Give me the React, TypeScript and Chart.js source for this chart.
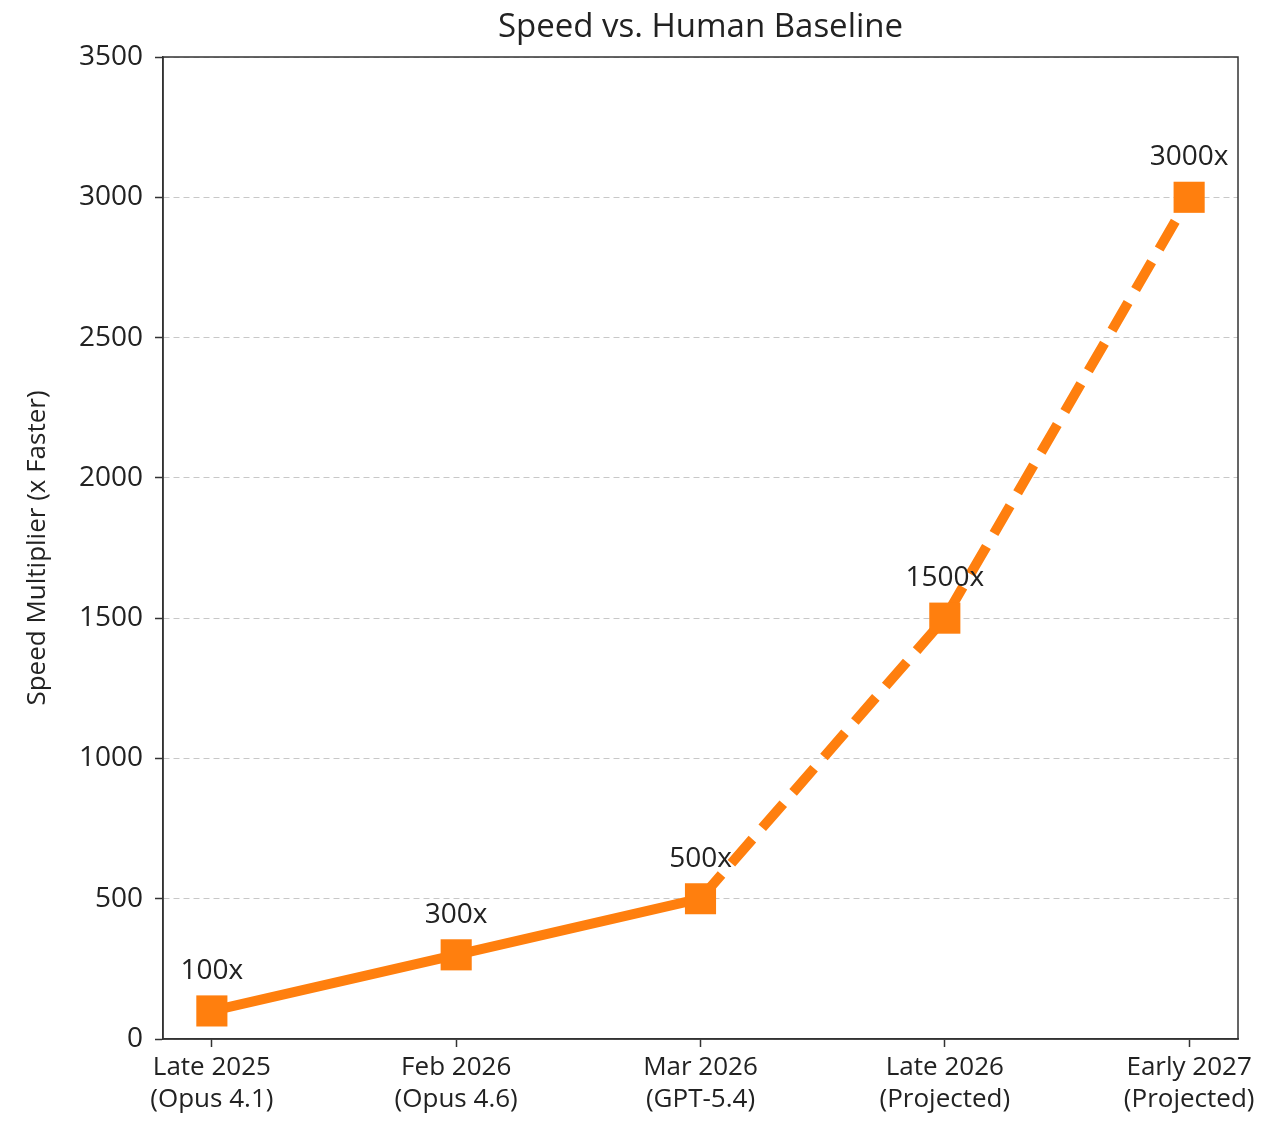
import React, { useEffect, useRef } from "react";
import { Chart, registerables } from "chart.js";

Chart.register(...registerables);

const categories: string[][] = [
  ["Late 2025", "(Opus 4.1)"],
  ["Feb 2026", "(Opus 4.6)"],
  ["Mar 2026", "(GPT-5.4)"],
  ["Late 2026", "(Projected)"],
  ["Early 2027", "(Projected)"],
];
const speedValues: number[] = [100, 300, 500, 1500, 3000];
const pointLabels: string[] = ["100x", "300x", "500x", "1500x", "3000x"];
const yTickValues: number[] = [0, 500, 1000, 1500, 2000, 2500, 3000, 3500];
const projectedFromIndex = 2;

const chartTitle = "Speed vs. Human Baseline";
const yAxisTitle = "Speed Multiplier (x Faster)";

const FONT = "'Open Sans', 'DejaVu Sans', sans-serif";
const ORANGE = "#ff7f0e";
const TEXT = "#222222";
const AXIS = "#333333";

const decorPlugin = {
  id: "decor",
  afterDatasetsDraw(chart: any) {
    const { ctx, chartArea } = chart;
    const meta = chart.getDatasetMeta(0);
    ctx.save();
    // data labels
    ctx.fillStyle = TEXT;
    ctx.font = `28px ${FONT}`;
    ctx.textAlign = "center";
    ctx.textBaseline = "middle";
    meta.data.forEach((pt: any, i: number) => {
      ctx.fillText(pointLabels[i], pt.x, pt.y - 40);
    });
    // box
    ctx.strokeStyle = AXIS;
    ctx.lineWidth = 1.5;
    ctx.strokeRect(
      chartArea.left,
      chartArea.top,
      chartArea.right - chartArea.left,
      chartArea.bottom - chartArea.top
    );
    // title
    ctx.font = `33px ${FONT}`;
    ctx.fillText(chartTitle, (chartArea.left + chartArea.right) / 2, 28);
    // y axis title
    ctx.translate(38, (chartArea.top + chartArea.bottom) / 2);
    ctx.rotate(-Math.PI / 2);
    ctx.font = `26px ${FONT}`;
    ctx.fillText(yAxisTitle, 0, 0);
    ctx.restore();
  },
};

export default function App() {
  const canvasRef = useRef<HTMLCanvasElement | null>(null);

  useEffect(() => {
    if (!canvasRef.current) return;
    const chart = new Chart(canvasRef.current, {
      type: "line",
      data: {
        datasets: [
          {
            data: speedValues.map((v, i) => ({ x: i, y: v })),
            borderColor: ORANGE,
            backgroundColor: ORANGE,
            borderWidth: 10,
            pointStyle: "rect",
            pointRadius: 22,
            pointHoverRadius: 22,
            pointBackgroundColor: ORANGE,
            pointBorderWidth: 0,
            borderCapStyle: "butt",
            clip: false,
            segment: {
              borderDash: (ctx: any) =>
                ctx.p0DataIndex >= projectedFromIndex ? [32, 15] : undefined,
            },
          } as any,
        ],
      },
      options: {
        responsive: false,
        animation: false,
        events: [],
        layout: { padding: { top: 57, right: 27, bottom: 0, left: 0 } },
        plugins: {
          legend: { display: false },
          title: { display: false },
          tooltip: { enabled: false },
        },
        scales: {
          x: {
            type: "linear",
            min: -0.2,
            max: 4.2,
            afterBuildTicks: (scale: any) => {
              scale.ticks = categories.map((_, i) => ({ value: i }));
            },
            afterFit: (scale: any) => {
              scale.height = 82;
            },
            grid: {
              drawOnChartArea: false,
              drawTicks: true,
              tickLength: 8,
              tickColor: AXIS,
              tickWidth: 1.5,
            },
            border: { display: true, color: AXIS, width: 1.5 },
            ticks: {
              autoSkip: false,
              maxRotation: 0,
              padding: 4,
              color: TEXT,
              font: { family: FONT, size: 26, lineHeight: 1.25 },
              callback: (v: any) => categories[Math.round(Number(v))] ?? "",
            },
          },
          y: {
            type: "linear",
            min: 0,
            max: 3500,
            afterBuildTicks: (scale: any) => {
              scale.ticks = yTickValues.map((v) => ({ value: v }));
            },
            afterFit: (scale: any) => {
              scale.width = 163;
            },
            grid: {
              color: "#c8c8c8",
              lineWidth: 1,
              drawTicks: true,
              tickLength: 8,
              tickColor: AXIS,
              tickWidth: 1.5,
              tickBorderDash: [],
            },
            border: { display: true, color: AXIS, width: 1.5, dash: [6, 4] },
            ticks: {
              padding: 12,
              color: TEXT,
              font: { family: FONT, size: 28 },
              callback: (v: any) => String(v),
            },
          },
        },
      },
      plugins: [decorPlugin],
    } as any);
    return () => chart.destroy();
  }, []);

  return (
    <div style={{ position: "absolute", left: 0, top: 0, width: 1265, height: 1121, background: "#fff" }}>
      <canvas ref={canvasRef} width={1265} height={1121} />
    </div>
  );
}
